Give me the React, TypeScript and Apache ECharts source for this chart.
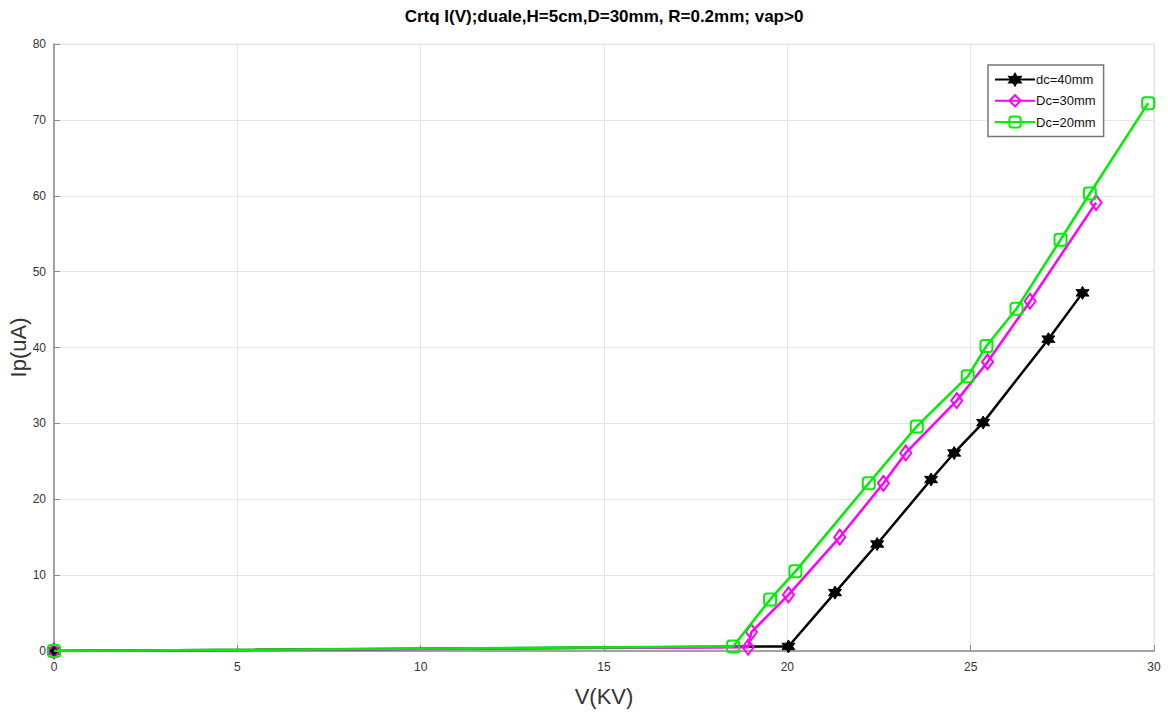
import React, { useEffect, useRef } from "react";
import * as echarts from "echarts";

const titleText = "Crtq I(V);duale,H=5cm,D=30mm, R=0.2mm; vap>0";
const xName = "V(KV)";
const yName = "Ip(uA)";
const seriesNames = ["dc=40mm", "Dc=30mm", "Dc=20mm"];
const seriesColors = ["#000000", "#ff00ff", "#00ee00"];

const dc40: number[][] = [
  [0, 0], [20.03, 0.6], [21.3, 7.7], [22.45, 14.1], [23.92, 22.6],
  [24.55, 26.1], [25.34, 30.1], [27.12, 41.1], [28.05, 47.2],
];
const dc30: number[][] = [
  [0, 0], [18.93, 0.5], [19.02, 2.5], [20.03, 7.4], [21.43, 15.0],
  [22.62, 22.1], [23.23, 26.1], [24.62, 33.0], [25.46, 38.1],
  [26.62, 46.1], [28.42, 59.1],
];
const dc20: number[][] = [
  [0, 0], [18.52, 0.6], [19.53, 6.8], [20.22, 10.5], [22.22, 22.1],
  [23.53, 29.6], [24.92, 36.2], [25.43, 40.2], [26.25, 45.1],
  [27.45, 54.2], [28.25, 60.3], [29.84, 72.2],
];
const xTicks = { min: 0, max: 30, interval: 5 };
const yTicks = { min: 0, max: 80, interval: 10 };

const FONT = "'Liberation Sans Narrow', 'Arial Narrow', 'Liberation Sans', Arial, sans-serif";
const hexagram =
  "path://M0,-1 L0.275,-0.476 L0.866,-0.5 L0.55,0 L0.866,0.5 L0.275,0.476 L0,1 L-0.275,0.476 L-0.866,0.5 L-0.55,0 L-0.866,-0.5 L-0.275,-0.476 Z";

export default function App() {
  const ref = useRef<HTMLDivElement>(null);
  useEffect(() => {
    if (!ref.current) return;
    const chart = echarts.init(ref.current, null, { renderer: "svg" });
    const datasets = [dc40, dc30, dc20];
    const symbols = [hexagram, "diamond", "roundRect"];
    const sizes: any[] = [13, [11, 15], 12];
    chart.setOption({
      animation: false,
      backgroundColor: "#ffffff",
      graphic: [
        {
          type: "text",
          x: 604,
          y: 16,
          style: {
            text: titleText,
            fontFamily: FONT,
            fontSize: 17,
            fontWeight: "bold",
            fill: "#000",
            textAlign: "center",
            textVerticalAlign: "middle",
          },
        },
      ],
      grid: {
        left: 54,
        top: 44,
        width: 1100,
        height: 607,
        outerBoundsMode: "none",
        containLabel: false,
        show: true,
        borderColor: "#e2e2e2",
        borderWidth: 1,
        backgroundColor: "transparent",
      },
      legend: {
        orient: "vertical",
        left: 988,
        top: 65,
        padding: [8, 8, 8, 6],
        itemGap: 8,
        itemWidth: 40,
        itemHeight: 14,
        backgroundColor: "#ffffff",
        borderColor: "#777",
        borderWidth: 1.5,
        textStyle: { fontFamily: FONT, fontSize: 13, color: "#111", padding: [0, 0, 0, -4] },
        data: seriesNames,
      },
      xAxis: {
        type: "value",
        ...xTicks,
        name: xName,
        nameLocation: "middle",
        nameGap: 34,
        nameMoveOverlap: false,
        nameTextStyle: { fontFamily: FONT, fontSize: 22, color: "#333" },
        axisLine: { show: true, lineStyle: { color: "#8a8a8a", width: 1.5 } },
        axisTick: { show: true, inside: true, length: 6, lineStyle: { color: "#8a8a8a" } },
        axisLabel: { fontFamily: FONT, fontSize: 12, color: "#333", margin: 10 },
        splitLine: { show: true, lineStyle: { color: "#e4e4e4", width: 1 } },
      },
      yAxis: {
        type: "value",
        ...yTicks,
        name: yName,
        nameLocation: "middle",
        nameGap: 25,
        nameMoveOverlap: false,
        nameTextStyle: { fontFamily: FONT, fontSize: 22, color: "#333" },
        axisLine: { show: true, lineStyle: { color: "#8a8a8a", width: 1.5 } },
        axisTick: { show: true, inside: true, length: 6, lineStyle: { color: "#8a8a8a" } },
        axisLabel: { fontFamily: FONT, fontSize: 12, color: "#333", margin: 8 },
        splitLine: { show: true, lineStyle: { color: "#e4e4e4", width: 1 } },
      },
      series: datasets.map((d, i) => ({
        name: seriesNames[i],
        type: "line",
        data: d,
        symbol: symbols[i],
        symbolSize: sizes[i],
        showAllSymbol: true,
        lineStyle: { color: seriesColors[i], width: 2.5 },
        itemStyle:
          i === 0
            ? { color: seriesColors[i], borderColor: seriesColors[i], borderWidth: 1 }
            : { color: "rgba(255,255,255,0)", borderColor: seriesColors[i], borderWidth: 2 },
        color: seriesColors[i],
        z: 2 + i,
      })),
    });
    return () => chart.dispose();
  }, []);
  return (
    <div
      ref={ref}
      style={{ position: "fixed", left: 0, top: 0, width: 1168, height: 716, background: "#fff" }}
    />
  );
}
